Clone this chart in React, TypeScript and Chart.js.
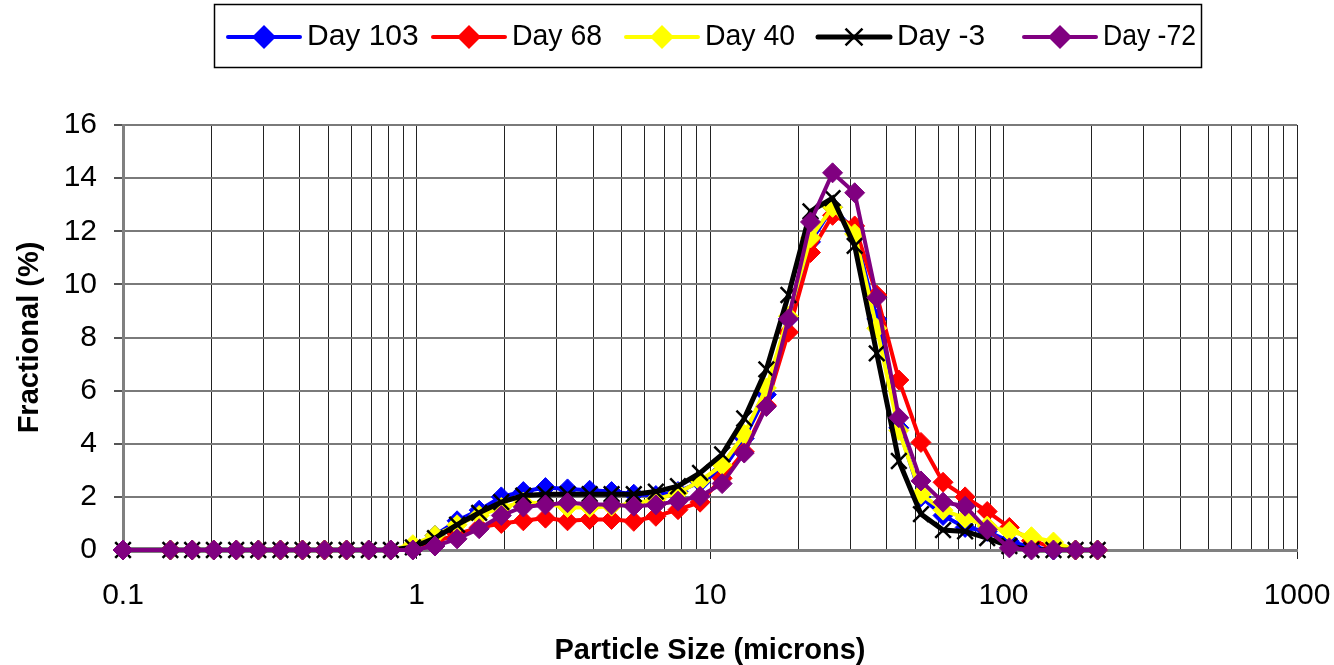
import React, { useEffect, useRef } from 'react';
import { Chart, registerables } from 'chart.js';

Chart.register(...registerables);

// Particle size channels (microns)
const sizes = [
  0.1, 0.145, 0.172, 0.204, 0.243, 0.289, 0.344, 0.409, 0.486, 0.578, 0.688,
  0.818, 0.972, 1.156, 1.375, 1.635, 1.945, 2.312, 2.75, 3.27, 3.89, 4.62,
  5.5, 6.54, 7.78, 9.25, 11, 13.08, 15.56, 18.5, 22, 26.16, 31.11, 37, 44,
  52.33, 62.23, 74, 88, 104.7, 124.5, 148, 176, 209.3,
];

const day103 = [
  0, 0, 0, 0, 0, 0, 0, 0, 0, 0, 0,
  0, 0.1, 0.55, 1.1, 1.5, 2.0, 2.2, 2.35, 2.3, 2.25, 2.2, 2.1, 2.05, 2.2, 2.55,
  3.0, 4.2, 5.85, 8.7, 11.6, 12.9, 12.0, 8.7, 4.6, 2.0, 1.3, 0.85, 0.7, 0.33,
  0.1, 0, 0, 0,
];
const day68 = [
  0, 0, 0, 0, 0, 0, 0, 0, 0, 0, 0,
  0, 0.05, 0.3, 0.6, 0.85, 1.0, 1.1, 1.2, 1.1, 1.15, 1.15, 1.08, 1.27, 1.52, 1.8,
  2.7, 3.7, 5.45, 8.2, 11.2, 12.6, 12.2, 9.6, 6.4, 4.05, 2.55, 2.0, 1.45, 0.85,
  0.35, 0.1, 0, 0,
];
const day40 = [
  0, 0, 0, 0, 0, 0, 0, 0, 0, 0, 0,
  0, 0.2, 0.55, 0.95, 1.3, 1.6, 1.8, 1.75, 1.6, 1.6, 1.65, 1.75, 1.9, 2.15, 2.6,
  3.2, 4.35, 6.1, 8.8, 11.75, 12.9, 11.9, 8.35, 4.5, 2.1, 1.5, 1.2, 0.9, 0.7,
  0.5, 0.3, 0, 0,
];
const dayMinus3 = [
  0, 0, 0, 0, 0, 0, 0, 0, 0, 0, 0,
  0, 0.1, 0.45, 0.95, 1.4, 1.8, 2.05, 2.1, 2.1, 2.1, 2.1, 2.1, 2.2, 2.4, 2.9,
  3.6, 4.95, 6.8, 9.6, 12.75, 13.25, 11.45, 7.4, 3.35, 1.35, 0.75, 0.7, 0.45, 0.15,
  0, 0, 0, 0,
];
const dayMinus72 = [
  0, 0, 0, 0, 0, 0, 0, 0, 0, 0, 0,
  0, 0, 0.15, 0.42, 0.8, 1.3, 1.62, 1.7, 1.78, 1.72, 1.7, 1.65, 1.7, 1.84, 2.02,
  2.5, 3.65, 5.4, 8.7, 12.35, 14.2, 13.45, 9.5, 4.98, 2.6, 1.8, 1.65, 0.77, 0.08,
  0, 0, 0, 0,
];

const seriesLabels = ['Day 103', 'Day 68', 'Day 40', 'Day -3', 'Day -72'];
const seriesValues = [day103, day68, day40, dayMinus3, dayMinus72];
const seriesColors = ['#0000FF', '#FF0000', '#FFFF00', '#000000', '#800080'];
const seriesMarkers = ['rectRot', 'rectRot', 'rectRot', 'crossRot', 'rectRot'];

const xMajorTicks = [0.1, 1, 10, 100, 1000];
const xMinorMultipliers = [2, 3, 4, 5, 6, 7, 8, 9];
const yMin = 0;
const yMax = 16;
const yStep = 2;

const xTitle = 'Particle Size (microns)';
const yTitle = 'Fractional (%)';

const FONT = "Arial, 'Liberation Sans', Helvetica, sans-serif";

// legend layout
const legendBox = { x: 214.5, y: 4.5, w: 987, h: 63 };
const legendItemX = [228, 433, 626, 818, 1024];
const legendTextMaxW = [113, 90, 90, 88, 93];

function drawMarker(ctx: CanvasRenderingContext2D, style: string, x: number, y: number, r: number, color: string) {
  ctx.save();
  if (style === 'crossRot') {
    ctx.strokeStyle = color;
    ctx.lineWidth = 2.5;
    ctx.lineCap = 'butt';
    const d = r * Math.SQRT1_2;
    ctx.beginPath();
    ctx.moveTo(x - d, y - d);
    ctx.lineTo(x + d, y + d);
    ctx.moveTo(x - d, y + d);
    ctx.lineTo(x + d, y - d);
    ctx.stroke();
  } else {
    ctx.fillStyle = color;
    ctx.beginPath();
    ctx.moveTo(x, y - r);
    ctx.lineTo(x + r, y);
    ctx.lineTo(x, y + r);
    ctx.lineTo(x - r, y);
    ctx.closePath();
    ctx.fill();
  }
  ctx.restore();
}

const boxLegendPlugin = {
  id: 'boxLegend',
  afterDraw(chart: any) {
    const ctx: CanvasRenderingContext2D = chart.ctx;
    ctx.save();
    ctx.strokeStyle = '#000';
    ctx.lineWidth = 1.5;
    ctx.strokeRect(legendBox.x, legendBox.y, legendBox.w, legendBox.h);
    const cy = legendBox.y + legendBox.h / 2 + 1;
    chart.data.datasets.forEach((ds: any, i: number) => {
      const x0 = legendItemX[i];
      ctx.strokeStyle = ds.borderColor;
      ctx.lineWidth = i === 3 ? 5 : 4;
      ctx.lineCap = 'round';
      ctx.beginPath();
      ctx.moveTo(x0, cy);
      ctx.lineTo(x0 + 72, cy);
      ctx.stroke();
      drawMarker(ctx, seriesMarkers[i], x0 + 36, cy, 12, ds.borderColor);
      ctx.fillStyle = '#000';
      ctx.font = `30px ${FONT}`;
      ctx.textBaseline = 'middle';
      ctx.textAlign = 'left';
      ctx.fillText(ds.label, x0 + 79, cy, legendTextMaxW[i]);
    });
    ctx.restore();
  },
};

export default function App() {
  const canvasRef = useRef<HTMLCanvasElement | null>(null);

  useEffect(() => {
    document.body.style.margin = '0';
    const canvas = canvasRef.current;
    if (!canvas) return;

    const datasets = seriesLabels.map((label, i) => ({
      label,
      data: sizes.map((s, j) => ({ x: s, y: seriesValues[i][j] })),
      borderColor: seriesColors[i],
      backgroundColor: seriesColors[i],
      borderWidth: i === 3 ? 5 : 4,
      pointStyle: seriesMarkers[i],
      pointRadius: i === 3 ? 11 : 10,
      pointBorderWidth: i === 3 ? 2.5 : 1,
      pointBorderColor: seriesColors[i],
      pointBackgroundColor: seriesColors[i],
      tension: 0,
      order: seriesLabels.length - i,
      clip: false as any,
    }));

    const xTicks: { value: number; major: boolean }[] = [];
    xMajorTicks.forEach((d, k) => {
      xTicks.push({ value: d, major: true });
      if (k < xMajorTicks.length - 1) {
        xMinorMultipliers.forEach((m) => xTicks.push({ value: d * m, major: false }));
      }
    });

    const chart = new Chart(canvas, {
      type: 'line',
      data: { datasets: datasets as any },
      plugins: [boxLegendPlugin],
      options: {
        responsive: false,
        animation: false,
        devicePixelRatio: 1,
        layout: { padding: { top: 125, right: 37, left: 0, bottom: 0 } },
        plugins: {
          legend: { display: false },
          tooltip: { enabled: false },
          title: { display: false },
        },
        scales: {
          x: {
            type: 'logarithmic',
            min: 0.1,
            max: 1000,
            afterBuildTicks: (scale: any) => {
              scale.ticks = xTicks.map((t) => ({ ...t }));
            },
            afterFit: (scale: any) => {
              scale.height = 115;
              scale.paddingLeft = 0;
              scale.paddingRight = 0;
            },
            ticks: {
              autoSkip: false,
              maxRotation: 0,
              minRotation: 0,
              padding: 19,
              color: '#000',
              font: { family: FONT, size: 30 },
              callback: (value: any) => {
                const v = Number(value);
                const hit = xMajorTicks.find((m) => Math.abs(m - v) / m < 1e-6);
                return hit !== undefined ? String(hit) : '';
              },
            },
            grid: {
              color: '#222',
              lineWidth: 1,
              tickLength: 9,
              tickColor: (ctx: any) => (ctx.tick && ctx.tick.major ? '#222' : 'rgba(0,0,0,0)'),
            },
            border: { color: '#808080', width: 3 },
            title: {
              display: true,
              text: xTitle,
              color: '#000',
              font: { family: FONT, size: 29, weight: 'bold' },
              padding: { top: 0, bottom: -3 },
            },
          },
          y: {
            min: yMin,
            max: yMax,
            afterFit: (scale: any) => {
              scale.width = 123;
              scale.paddingTop = 0;
              scale.paddingBottom = 0;
            },
            ticks: {
              stepSize: yStep,
              padding: 17,
              color: '#000',
              font: { family: FONT, size: 30 },
            },
            grid: {
              color: '#7a7a7a',
              lineWidth: 2,
              tickLength: 9,
              tickColor: '#555',
            },
            border: { color: '#808080', width: 3 },
            title: {
              display: true,
              text: yTitle,
              color: '#000',
              font: { family: FONT, size: 29, weight: 'bold' },
              padding: { top: 13, bottom: 0 },
            },
          },
        },
      } as any,
    });

    return () => chart.destroy();
  }, []);

  return (
    <div style={{ position: 'absolute', left: 0, top: 0, width: 1334, height: 665, background: '#fff' }}>
      <canvas ref={canvasRef} width={1334} height={665} />
    </div>
  );
}
